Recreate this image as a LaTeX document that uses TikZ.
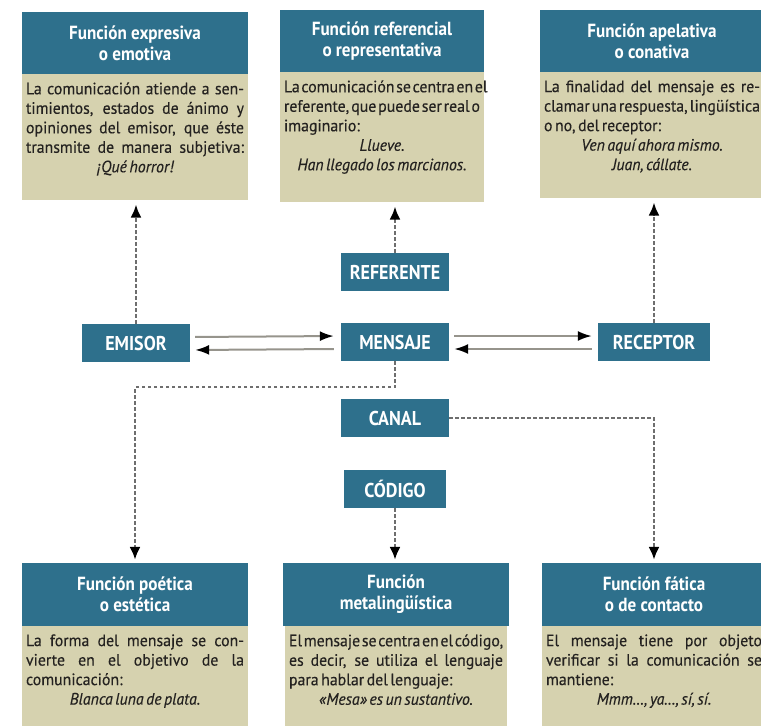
\documentclass[tikz,border=0pt]{standalone}
\usepackage{fontspec}
\setmainfont{PT Sans}[FakeStretch=0.96,WordSpace=0.6,FakeBold=0.3]
\newfontfamily\titulofont{PT Sans}[FakeStretch=0.9]
\usetikzlibrary{positioning,arrows.meta}

\definecolor{azul}{RGB}{46,112,140}
\definecolor{beige}{RGB}{214,210,175}
\definecolor{tinta}{RGB}{36,34,32}
\definecolor{gris}{RGB}{110,110,110}
\definecolor{grisclaro}{RGB}{150,148,140}

% cuadro de texto con altura fija, texto arriba
\newcommand{\contenido}[3]{\parbox[t][#2][t]{#1}{#3}}
% linea justificada
\newcommand{\linea}[1]{\makebox[\linewidth][s]{#1}\par}

\begin{document}
\begin{tikzpicture}
  [x=1pt,y=-1pt,
   cabecera/.style={fill=azul,text=white,align=center,inner sep=0pt,minimum height=62pt,
     font=\titulofont\bfseries\fontsize{19}{21}\selectfont},
   cuerpo/.style={fill=beige,text=tinta,inner xsep=4pt,inner ysep=8pt,
     font=\fontsize{16.5}{19.5}\selectfont},
   elemento/.style={fill=azul,text=white,minimum width=108pt,minimum height=38pt,inner sep=0pt,
     font=\titulofont\bfseries\fontsize{20}{22}\selectfont},
   flecha/.style={draw=grisclaro,line width=2pt,-{Latex[length=14pt,width=10pt,color=black]}},
   discont/.style={draw=gris,line width=2.2pt,dash pattern=on 3.5pt off 2.5pt,
     -{Latex[length=13pt,width=11pt,color=black]}}]

  \clip (0,0) rectangle (761,726);

  % Funciones de arriba
  \node[cabecera,minimum width=226pt] (fexp) at (135,43) {Función expresiva\\o emotiva};
  \node[cuerpo,below=0pt of fexp] (fexpb) {\contenido{218pt}{110pt}{%
    \linea{La comunicación atiende a sen-}\linea{timientos, estados de ánimo y}%
    \linea{opiniones del emisor, que éste}\linea{transmite de manera subjetiva:}%
    {\centering\itshape ¡Qué horror!\par}}};

  \node[cabecera,minimum width=204pt] (fref) at (382,41) {Función referencial\\o representativa};
  \node[cuerpo,below=0pt of fref] (frefb) {\contenido{196pt}{114pt}{%
    \linea{La comunicación se centra en el}\linea{referente, que puede ser real o}%
    imaginario:\par
    {\centering\itshape Llueve.\\Han llegado los marcianos.\par}}};

  \node[cabecera,minimum width=224pt] (fape) at (652,41) {Función apelativa\\o conativa};
  \node[cuerpo,below=0pt of fape] (fapeb) {\contenido{216pt}{110pt}{%
    \linea{La finalidad del mensaje es re-}\linea{clamar una respuesta, lingüística}%
    o no, del receptor:\par
    {\centering\itshape Ven aquí ahora mismo.\\Juan, cállate.\par}}};

  % Elementos de la comunicación
  \node[elemento] (emi) at (136,343) {EMISOR};
  \node[elemento] (ref) at (395,272) {REFERENTE};
  \node[elemento] (men) at (395,342) {MENSAJE};
  \node[elemento,minimum width=112pt] (rec) at (654,342) {RECEPTOR};
  \node[elemento] (can) at (395,418) {CANAL};
  \node[elemento,minimum width=102pt] (cod) at (395,489) {CÓDIGO};

  % Funciones de abajo
  \node[cabecera,minimum width=226pt,minimum height=63pt] (fpoe) at (135,594.5) {Función poética\\o estética};
  \node[cuerpo,below=0pt of fpoe] (fpoeb) {\contenido{218pt}{120pt}{%
    \linea{La forma del mensaje se con-}\linea{vierte en el objetivo de la}%
    comunicación:\par
    {\centering\itshape Blanca luna de plata.\par}}};

  \node[cabecera,minimum width=226pt,minimum height=63pt] (fmet) at (396,594.5) {Función\\metalingüística};
  \node[cuerpo,below=0pt of fmet] (fmetb) {\contenido{214pt}{120pt}{%
    \linea{El mensaje se centra en el código,}\linea{es decir, se utiliza el lenguaje}%
    para hablar del lenguaje:\par
    {\centering\itshape «Mesa» es un sustantivo.\par}}};

  \node[cabecera,minimum width=224pt,minimum height=63pt] (fat) at (654,594.5) {Función fática\\o de contacto};
  \node[cuerpo,below=0pt of fat] (fatb) {\contenido{216pt}{120pt}{%
    \linea{El mensaje tiene por objeto}\linea{verificar si la comunicación se}%
    mantiene:\par
    {\centering\itshape Mmm\dots, ya\dots, sí, sí.\par}}};

  % Flechas entre elementos
  \draw[flecha,shorten <=5pt,shorten >=7pt] ([yshift=6pt]emi.east) -- ([yshift=6pt]men.west);
  \draw[flecha,shorten <=7pt,shorten >=5pt] ([yshift=-7pt]men.west) -- ([yshift=-7pt]emi.east);
  \draw[flecha,shorten <=5pt,shorten >=6pt] ([yshift=6pt]men.east) -- ([yshift=6pt]rec.west);
  \draw[flecha,shorten <=6pt,shorten >=5pt] ([yshift=-7pt]rec.west) -- ([yshift=-7pt]men.east);

  % Flechas discontinuas hacia las funciones
  \draw[discont,shorten >=4pt] (emi.north) -- (emi.north |- fexpb.south);
  \draw[discont,shorten >=4pt] (ref.north) -- (ref.north |- frefb.south);
  \draw[discont,shorten >=4pt] (rec.north) -- (rec.north |- fapeb.south);
  \draw[discont,shorten >=3pt] (men.south) -- ++(0,26) -| (fpoe.north);
  \draw[discont,shorten >=3pt] (can.east) -| (fat.north);
  \draw[discont,shorten >=3pt] (cod.south) -- (cod.south |- fmet.north);

\end{tikzpicture}
\end{document}
